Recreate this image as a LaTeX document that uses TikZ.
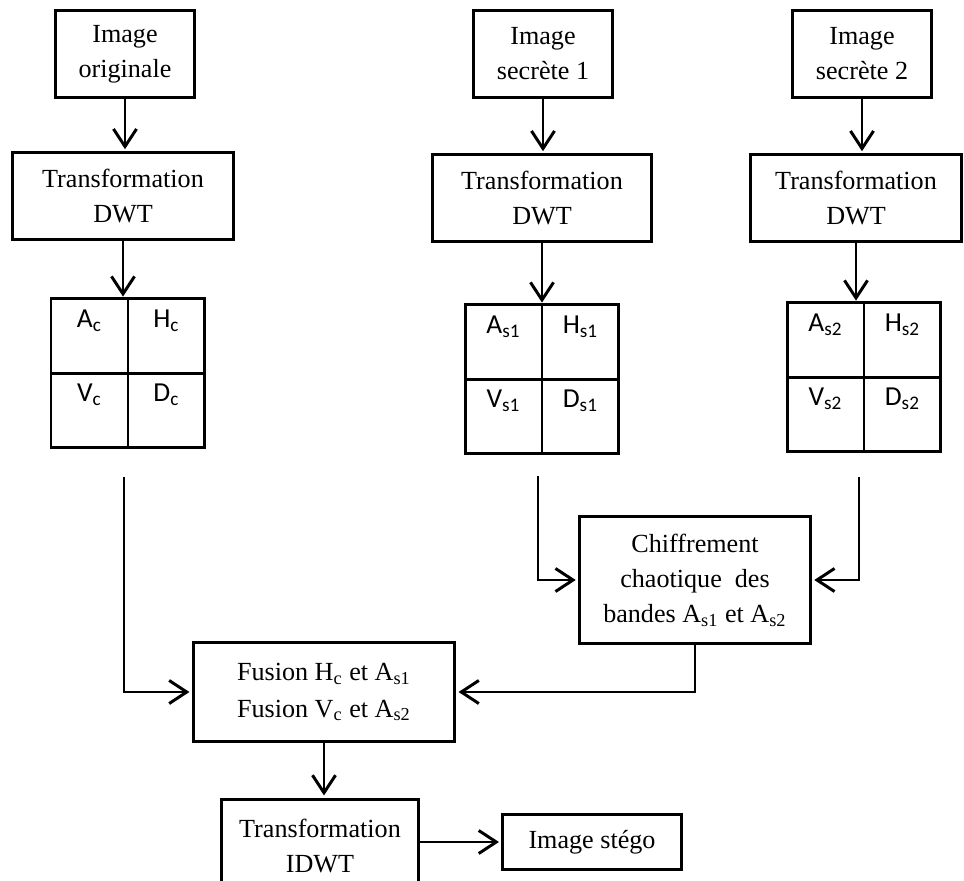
\documentclass[tikz,border=0pt]{standalone}
\usepackage{fontspec}
\setmainfont{Liberation Serif}
\newfontfamily\cellfont{Carlito}
\usetikzlibrary{positioning,arrows.meta}

\begin{document}
\begin{tikzpicture}[x=0.016cm, y=-0.016cm, line width=1.35pt, every node/.style={font=\fontsize{11.9}{15.9}\selectfont}, box/.style={draw, align=center, inner sep=0pt}, cell/.style={draw, outer sep=0pt, inner sep=0pt, minimum width=1.232cm, minimum height=1.19cm, text height=9pt, text depth=16.8pt, font=\cellfont\fontsize{12.5}{15}\selectfont}, arr/.style={-{Straight Barb[length=8pt,width=10.5pt]}, shorten >=1pt}]
\clip (0,0) rectangle (964,881);
\node[box, minimum width=2.21cm, minimum height=1.38cm] (orig) at (125,54) {Image\\originale};
\node[box, minimum width=2.22cm, minimum height=1.38cm] (sec1) at (543,54) {Image\\secrète 1};
\node[box, minimum width=2.22cm, minimum height=1.38cm] (sec2) at (862,54) {Image\\secrète 2};
\node[box, minimum width=3.55cm, minimum height=1.38cm] (dwt0) at (123,196) {Transformation\\DWT};
\node[box, minimum width=3.52cm, minimum height=1.38cm] (dwt1) at (542,198) {Transformation\\DWT};
\node[box, minimum width=3.39cm, minimum height=1.38cm] (dwt2) at (856,198) {Transformation\\DWT};
% sub-band grids
\foreach \g/\x/\y in {c/51/299, s1/465/305, s2/787/303} {
  \node[cell] (A\g) at (\x+38.5,\y+37) {A\textsubscript{\g}};
  \node[cell, right=0pt of A\g] (H\g) {H\textsubscript{\g}};
  \node[cell, below=0pt of A\g] (V\g) {V\textsubscript{\g}};
  \node[cell, right=0pt of V\g] (D\g) {D\textsubscript{\g}};
}
\node[box, minimum width=3.7cm, minimum height=2.02cm] (chif) at (695,580) {Chiffrement\\chaotique\ \ des\\bandes A\textsubscript{s1} et A\textsubscript{s2}};
\node[box, minimum width=4.19cm, minimum height=1.57cm, font=\fontsize{11.9}{16.8}\selectfont] (fus) at (324,692) {Fusion H\textsubscript{c} et A\textsubscript{s1}\\Fusion V\textsubscript{c} et A\textsubscript{s2}};
\node[box, minimum width=3.15cm, minimum height=1.5cm] (idwt) at (320,846) {Transformation\\IDWT};
\node[box, minimum width=2.86cm, minimum height=0.88cm] (steg) at (592,842) {Image stégo};
\coordinate (c0) at (124,477); \coordinate (c1) at (538,476); \coordinate (c2) at (859,477);
\draw[arr] (orig.south) -- (orig.south |- dwt0.north); \draw[arr] (dwt0.south) -- (dwt0.south |- Ac.north);
\draw[arr] (sec1.south) -- (sec1.south |- dwt1.north); \draw[arr] (dwt1.south) -- (dwt1.south |- As1.north);
\draw[arr] (sec2.south) -- (sec2.south |- dwt2.north); \draw[arr] (dwt2.south) -- (dwt2.south |- As2.north);
\draw[arr] (c1) |- (chif.west); \draw[arr] (c2) |- (chif.east);
\draw[arr] (c0) |- (fus.west); \draw[arr] (chif.south) |- (fus.east);
\draw[arr] (fus.south) -- (fus.south |- idwt.north); \draw[arr] (idwt.east |- steg.west) -- (steg.west);
\end{tikzpicture}
\end{document}
